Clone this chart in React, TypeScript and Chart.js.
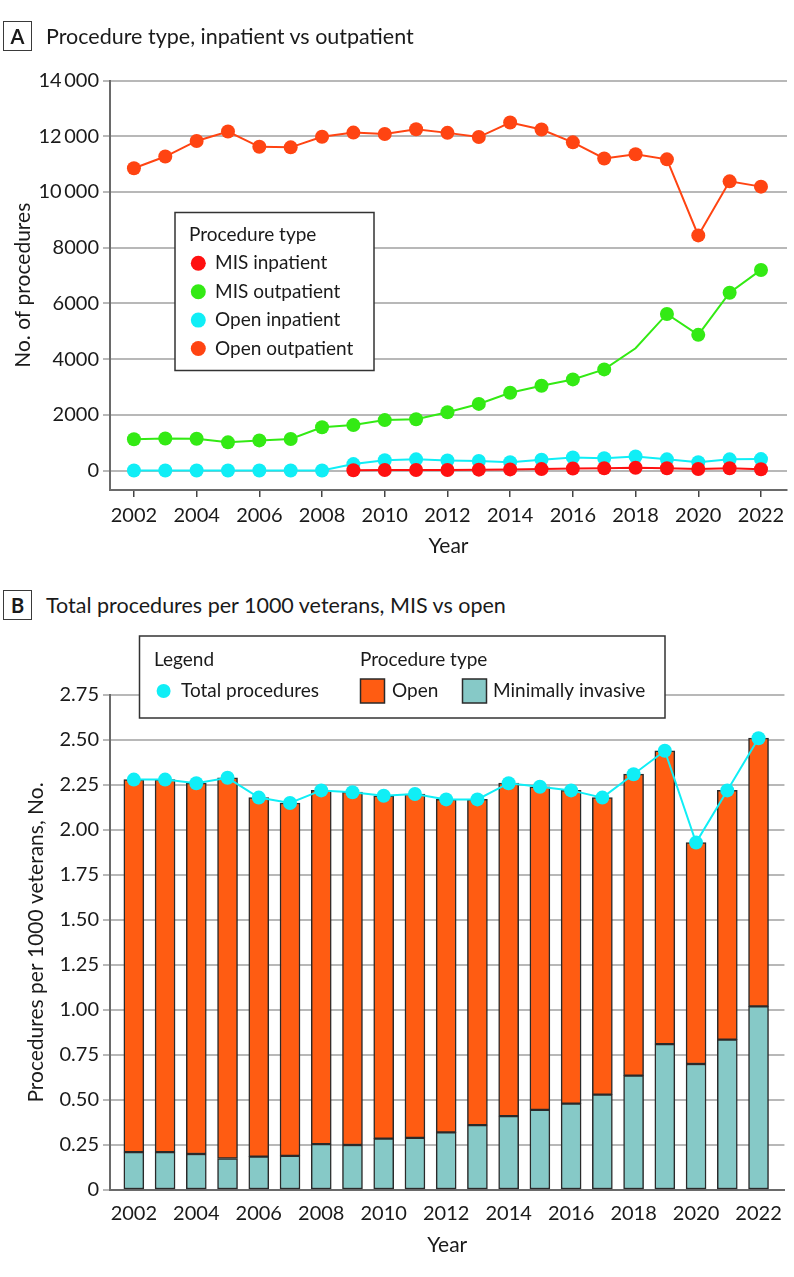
import React, { useEffect, useRef } from "react";
import { Chart, registerables } from "chart.js";

Chart.register(...registerables);

const FONT = "Lato, 'Noto Sans', sans-serif";
const INK = "#1a1a1a";

const YEARS = [
  2002, 2003, 2004, 2005, 2006, 2007, 2008, 2009, 2010, 2011, 2012,
  2013, 2014, 2015, 2016, 2017, 2018, 2019, 2020, 2021, 2022,
];
const YEAR_TICKS = [2002, 2004, 2006, 2008, 2010, 2012, 2014, 2016, 2018, 2020, 2022];
const COUNT_TICKS = [0, 2000, 4000, 6000, 8000, 10000, 12000, 14000];
const RATE_TICKS = [0, 0.25, 0.5, 0.75, 1, 1.25, 1.5, 1.75, 2, 2.25, 2.5, 2.75];

// Panel A: number of procedures per year, by approach and setting
const MIS_INPATIENT = [
  null, null, null, null, null, null, null, 10, 20, 20, 20,
  30, 40, 50, 70, 80, 100, 80, 55, 80, 45,
];
const MIS_OUTPATIENT = [
  1120, 1150, 1140, 1010, 1080, 1130, 1550, 1630, 1810, 1840, 2090,
  2390, 2790, 3040, 3270, 3630, 4390, 5620, 4870, 6380, 7200,
];
const OPEN_INPATIENT = [
  0, 0, 0, 0, 0, 0, 0, 230, 370, 400, 360,
  340, 300, 390, 470, 440, 500, 400, 295, 400, 410,
];
const OPEN_OUTPATIENT = [
  10850, 11270, 11830, 12170, 11620, 11600, 11980, 12130, 12080, 12250, 12120,
  11970, 12490, 12240, 11780, 11200, 11350, 11170, 8440, 10380, 10190,
];
// years on the MIS outpatient line drawn without a marker
const MIS_OUTPATIENT_UNMARKED = [2018];

// Panel B: procedures per 1000 veterans
const TOTAL_RATE = [
  2.28, 2.28, 2.26, 2.29, 2.18, 2.15, 2.22, 2.21, 2.19, 2.2, 2.17,
  2.17, 2.26, 2.24, 2.22, 2.18, 2.31, 2.44, 1.93, 2.22, 2.51,
];
const MIS_RATE = [
  0.21, 0.21, 0.2, 0.175, 0.185, 0.19, 0.255, 0.25, 0.285, 0.29, 0.32,
  0.36, 0.41, 0.445, 0.48, 0.53, 0.635, 0.81, 0.7, 0.835, 1.02,
];
const OPEN_RATE = [
  2.07, 2.07, 2.06, 2.115, 1.995, 1.96, 1.965, 1.96, 1.905, 1.91, 1.85,
  1.81, 1.85, 1.795, 1.74, 1.65, 1.675, 1.63, 1.23, 1.385, 1.49,
];

const COLORS = {
  misInpatient: "#ff1010",
  misOutpatient: "#33ea14",
  openInpatient: "#10eef6",
  openOutpatient: "#ff4412",
  openBar: "#ff5c12",
  misBar: "#86c9c7",
  total: "#10eef6",
  grid: "#b8b8b8",
  axis: "#6a6a6a",
};

const TICK_SIZE = 20;
const TITLE_SIZE = 21;
const LEGEND_SIZE = 19;

const X_MIN = 2001.237;
const X_MAX = 2022.83;

const toPoints = (values: (number | null)[]) =>
  YEARS.map((year, i) => ({ x: year, y: values[i] }));

const formatCount = (v: number) =>
  v >= 10000 ? String(v).replace(/\B(?=(\d{3})+(?!\d))/g, "\u2009") : String(v);

const formatRate = (v: number) => (v === 0 ? "0" : v.toFixed(2));

// Boxed legend drawn inside the plot of panel A
const legendCounts = {
  id: "legendCounts",
  afterDatasetsDraw(chart: any) {
    const { ctx } = chart;
    ctx.save();
    const bx = 175, by = 212.5, bw = 199, bh = 158;
    ctx.fillStyle = "#ffffff";
    ctx.fillRect(bx, by, bw, bh);
    ctx.lineWidth = 1.5;
    ctx.strokeStyle = "#333333";
    ctx.strokeRect(bx, by, bw, bh);
    ctx.font = `${LEGEND_SIZE}px ${FONT}`;
    ctx.textAlign = "left";
    ctx.textBaseline = "middle";
    ctx.fillStyle = INK;
    ctx.fillText("Procedure type", 189, 235);
    chart.data.datasets.forEach((ds: any, i: number) => {
      const y = 263.3 + i * 28.4;
      ctx.beginPath();
      ctx.arc(198.3, y, 7.5, 0, Math.PI * 2);
      ctx.fillStyle = ds.backgroundColor;
      ctx.fill();
      ctx.fillStyle = INK;
      ctx.fillText(ds.label, 215, y);
    });
    ctx.restore();
  },
};

// Boxed legend drawn over the top of panel B
const legendRates = {
  id: "legendRates",
  afterDatasetsDraw(chart: any) {
    const { ctx } = chart;
    const ds = chart.data.datasets;
    ctx.save();
    const bx = 139.5, by = 16, bw = 525.5, bh = 82;
    ctx.fillStyle = "#ffffff";
    ctx.fillRect(bx, by, bw, bh);
    ctx.lineWidth = 1.5;
    ctx.strokeStyle = "#333333";
    ctx.strokeRect(bx, by, bw, bh);
    ctx.font = `${LEGEND_SIZE}px ${FONT}`;
    ctx.textAlign = "left";
    ctx.textBaseline = "middle";
    ctx.fillStyle = INK;
    ctx.fillText("Legend", 154, 40);
    ctx.fillText("Procedure type", 360, 40);
    const rowY = 71;
    // total procedures marker
    ctx.beginPath();
    ctx.arc(163.6, rowY, 7, 0, Math.PI * 2);
    ctx.fillStyle = ds[0].pointBackgroundColor;
    ctx.fill();
    ctx.fillStyle = INK;
    ctx.fillText(ds[0].label, 181, rowY);
    // bar swatches
    const swatches = [
      { d: ds[2], x: 360.5, tx: 392 },
      { d: ds[1], x: 462.5, tx: 493 },
    ];
    swatches.forEach(({ d, x, tx }) => {
      ctx.fillStyle = d.backgroundColor;
      ctx.fillRect(x, rowY - 12, 24, 24);
      ctx.lineWidth = 1.5;
      ctx.strokeStyle = "#2a2a2a";
      ctx.strokeRect(x, rowY - 12, 24, 24);
      ctx.fillStyle = INK;
      ctx.fillText(d.label, tx, rowY);
    });
    ctx.restore();
  },
};

const lineSeries = (label: string, color: string, values: (number | null)[], radius: any = 7) => ({
  label,
  data: toPoints(values),
  borderColor: color,
  backgroundColor: color,
  pointBackgroundColor: color,
  pointBorderWidth: 0,
  pointRadius: radius,
  pointHoverRadius: radius,
  borderWidth: 2,
  tension: 0,
  spanGaps: false,
});

function CountsChart() {
  const ref = useRef<HTMLCanvasElement | null>(null);
  useEffect(() => {
    if (!ref.current) return;
    const chart = new Chart(ref.current, {
      type: "line",
      data: {
        datasets: [
          lineSeries("MIS inpatient", COLORS.misInpatient, MIS_INPATIENT),
          lineSeries(
            "MIS outpatient",
            COLORS.misOutpatient,
            MIS_OUTPATIENT,
            YEARS.map((y) => (MIS_OUTPATIENT_UNMARKED.includes(y) ? 0 : 7))
          ),
          lineSeries("Open inpatient", COLORS.openInpatient, OPEN_INPATIENT),
          lineSeries("Open outpatient", COLORS.openOutpatient, OPEN_OUTPATIENT),
        ] as any,
      },
      options: {
        animation: false,
        responsive: false,
        maintainAspectRatio: false,
        layout: { padding: { top: 80.5, right: 5, bottom: 0, left: 0 } },
        plugins: { legend: { display: false }, tooltip: { enabled: false } },
        scales: {
          x: {
            type: "linear",
            min: X_MIN,
            max: X_MAX,
            afterBuildTicks: (axis: any) => {
              axis.ticks = YEAR_TICKS.map((v) => ({ value: v }));
            },
            afterFit: (axis: any) => {
              axis.height = 85;
            },
            grid: {
              drawOnChartArea: false,
              drawTicks: true,
              tickLength: 7,
              color: "#444444",
              lineWidth: 1.5,
            },
            border: { display: true, color: COLORS.axis, width: 2 },
            ticks: {
              color: INK,
              font: { family: FONT, size: TICK_SIZE },
              padding: 7,
              maxRotation: 0,
              callback: (v: any) => String(v),
            },
            title: {
              display: true,
              text: "Year",
              color: INK,
              font: { family: FONT, size: TITLE_SIZE },
              padding: { top: 0, bottom: 16 },
            },
          },
          y: {
            min: -700,
            max: 14000,
            afterBuildTicks: (axis: any) => {
              axis.ticks = COUNT_TICKS.map((v) => ({ value: v }));
            },
            afterFit: (axis: any) => {
              axis.width = 110;
            },
            grid: {
              color: COLORS.grid,
              lineWidth: 2,
              tickLength: 7,
            },
            border: { display: true, color: COLORS.axis, width: 2 },
            ticks: {
              color: INK,
              font: { family: FONT, size: TICK_SIZE },
              padding: 4,
              callback: (v: any) => formatCount(Number(v)),
            },
            title: {
              display: true,
              text: "No. of procedures",
              color: INK,
              font: { family: FONT, size: TITLE_SIZE },
              padding: { top: 11, bottom: 0 },
            },
          },
        },
      } as any,
      plugins: [legendCounts],
    });
    return () => chart.destroy();
  }, []);
  return (
    <canvas
      ref={ref}
      width={794}
      height={575}
      style={{ position: "absolute", left: 0, top: 0, width: 794, height: 575 }}
    />
  );
}

function RatesChart() {
  const ref = useRef<HTMLCanvasElement | null>(null);
  useEffect(() => {
    if (!ref.current) return;
    const barStyle = {
      type: "bar",
      stack: "rate",
      barThickness: 20,
      borderColor: "#2a2a2a",
      borderWidth: 1.5,
      borderSkipped: false,
      order: 2,
    };
    const chart = new Chart(ref.current, {
      type: "bar",
      data: {
        datasets: [
          {
            type: "line",
            label: "Total procedures",
            stack: "total",
            data: toPoints(TOTAL_RATE),
            borderColor: COLORS.total,
            backgroundColor: COLORS.total,
            pointBackgroundColor: COLORS.total,
            pointBorderWidth: 0,
            pointRadius: 7,
            pointHoverRadius: 7,
            borderWidth: 2,
            order: 0,
          },
          {
            ...barStyle,
            label: "Minimally invasive",
            data: toPoints(MIS_RATE),
            backgroundColor: COLORS.misBar,
          },
          {
            ...barStyle,
            label: "Open",
            data: toPoints(OPEN_RATE),
            backgroundColor: COLORS.openBar,
          },
        ] as any,
      },
      options: {
        animation: false,
        responsive: false,
        maintainAspectRatio: false,
        layout: { padding: { top: 75, right: 5, bottom: 0, left: 0 } },
        plugins: { legend: { display: false }, tooltip: { enabled: false } },
        scales: {
          x: {
            type: "linear",
            min: X_MIN,
            max: X_MAX,
            offset: false,
            afterBuildTicks: (axis: any) => {
              axis.ticks = YEAR_TICKS.map((v) => ({ value: v }));
            },
            afterFit: (axis: any) => {
              axis.height = 87;
            },
            grid: { display: false, drawTicks: false, offset: false },
            border: { display: true, color: COLORS.axis, width: 2 },
            ticks: {
              color: INK,
              font: { family: FONT, size: TICK_SIZE },
              padding: 12,
              maxRotation: 0,
              callback: (v: any) => String(v),
            },
            title: {
              display: true,
              text: "Year",
              color: INK,
              font: { family: FONT, size: TITLE_SIZE },
              padding: { top: 0, bottom: 19 },
            },
          },
          y: {
            stacked: true,
            min: 0,
            max: 2.75,
            afterBuildTicks: (axis: any) => {
              axis.ticks = RATE_TICKS.map((v) => ({ value: v }));
            },
            afterFit: (axis: any) => {
              axis.width = 110;
            },
            grid: {
              color: COLORS.grid,
              lineWidth: 2,
              tickLength: 7,
            },
            border: { display: true, color: COLORS.axis, width: 2 },
            ticks: {
              color: INK,
              font: { family: FONT, size: TICK_SIZE },
              padding: 4,
              callback: (v: any) => formatRate(Number(v)),
            },
            title: {
              display: true,
              text: "Procedures per 1000 veterans, No.",
              color: INK,
              font: { family: FONT, size: TITLE_SIZE },
              padding: { top: 24, bottom: 0 },
            },
          },
        },
      } as any,
      plugins: [legendRates],
    });
    return () => chart.destroy();
  }, []);
  return (
    <canvas
      ref={ref}
      width={794}
      height={657}
      style={{ position: "absolute", left: 0, top: 620, width: 794, height: 657 }}
    />
  );
}

function PanelTitle({ letter, text, top }: { letter: string; text: string; top: number }) {
  return (
    <div
      style={{
        position: "absolute",
        left: 3,
        top,
        height: 31,
        display: "flex",
        alignItems: "center",
        fontFamily: FONT,
        color: INK,
      }}
    >
      <div
        style={{
          width: 27,
          height: 28,
          border: "1.5px solid #3a3a3a",
          display: "flex",
          alignItems: "center",
          justifyContent: "center",
          fontWeight: 700,
          fontSize: 20,
        }}
      >
        {letter}
      </div>
      <div style={{ marginLeft: 14, fontSize: 21.5, whiteSpace: "nowrap" }}>{text}</div>
    </div>
  );
}

export default function App() {
  return (
    <div
      style={{
        position: "absolute",
        left: 0,
        top: 0,
        width: 794,
        height: 1277,
        background: "#ffffff",
        overflow: "hidden",
      }}
    >
      <CountsChart />
      <RatesChart />
      <PanelTitle letter="A" text="Procedure type, inpatient vs outpatient" top={20} />
      <PanelTitle letter="B" text="Total procedures per 1000 veterans, MIS vs open" top={589} />
    </div>
  );
}
